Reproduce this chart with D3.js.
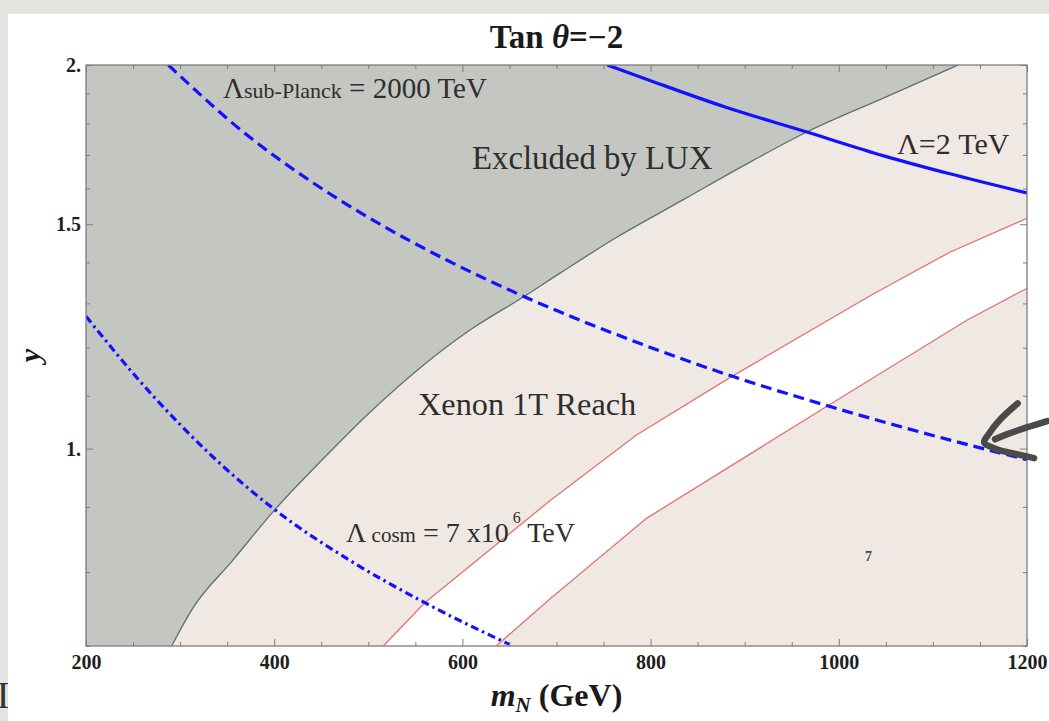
<!DOCTYPE html>
<html>
<head>
<meta charset="utf-8">
<script src="https://cdn.jsdelivr.net/npm/d3@7"></script>
<style>
  html, body { margin: 0; padding: 0; background: #e4e3df; }
  svg { display: block; }
  text { font-family: "Liberation Serif", "Times New Roman", serif; }
</style>
</head>
<body>
<svg id="chart" width="1049" height="721"></svg>
<script>
// Parameter space y versus m_N (GeV) at tan θ = −2

// LUX exclusion boundary: [m_N, y]; the region above/left is excluded
const luxBoundary = [
  [291, 0.70], [313.7, 0.750], [355.2, 0.816], [401, 0.896], [448.7, 0.976],
  [501.8, 1.068], [554.9, 1.157], [608.1, 1.239], [664.7, 1.315], [703.7, 1.373],
  [764, 1.465], [834.8, 1.568], [905.6, 1.678], [965.9, 1.772], [1047.3, 1.884],
  [1127, 2.0]
];

// Edges of the band left open by Xenon 1T
const xenonUpper = [
  [516, 0.70], [560, 0.757], [693, 0.910], [785, 1.025], [886, 1.139],
  [1037, 1.323], [1118, 1.426], [1200, 1.516]
];
const xenonLower = [
  [636, 0.70], [693, 0.762], [796, 0.882], [987, 1.079], [1136, 1.261], [1200, 1.336]
];

// Cutoff-scale contours
const lambdaSubPlanck = [
  [287.5, 2.0], [370.8, 1.763], [441.6, 1.616], [512.4, 1.500], [583.3, 1.406],
  [664.7, 1.317], [780, 1.216], [886.2, 1.140], [987.1, 1.081], [1100, 1.024], [1200, 0.980]
];
const lambda2TeV = [
  [754, 2.0], [800, 1.944], [880, 1.853], [966, 1.772], [1047, 1.698], [1118, 1.643], [1200, 1.587]
];
const lambdaCosm = [
  [200, 1.270], [265, 1.113], [335, 0.985], [401, 0.895], [477, 0.820],
  [560, 0.757], [650, 0.702]
];

// Hand-drawn pointer next to the sub-Planck contour
const pointerStrokes = [
  [[1190.0, 1.085], [1172.0, 1.055], [1159.0, 1.026], [1154.5, 1.011], [1167.8, 0.999], [1189.0, 0.990], [1207.5, 0.983]],
  [[1221.5, 1.051], [1199.7, 1.039], [1178.4, 1.026], [1166.0, 1.017]]
];

// Axes
const xDomain = [200, 1200];
const yDomain = [0.7, 2.0];
const xMajorTicks = [200, 400, 600, 800, 1000, 1200];
const xTickLabels = ["200", "400", "600", "800", "1000", "1200"];
const xMinorTicks = [250, 300, 350, 450, 500, 550, 650, 700, 750, 850, 900, 950, 1050, 1100, 1150];
const yMajorTicks = [1.0, 1.5, 2.0];
const yTickLabels = ["1.", "1.5", "2."];
const yMinorTicks = [0.7, 0.8, 0.9, 1.1, 1.2, 1.3, 1.4, 1.6, 1.7, 1.8, 1.9];

const svg = d3.select("#chart");
const W = 1049, H = 721;
const margin = { left: 86, right: 22, top: 65, bottom: 75 };

const x = d3.scaleLinear().domain(xDomain).range([margin.left, W - margin.right]);
const y = d3.scaleLog().domain(yDomain).range([H - margin.bottom, margin.top]);

// page backdrop and white sheet
svg.append("rect").attr("width", W).attr("height", H).attr("fill", "#e4e3df");
svg.append("rect").attr("x", 8).attr("y", 14).attr("width", W - 8).attr("height", H - 14).attr("fill", "#ffffff");
svg.append("text").attr("x", 3).attr("y", 708).attr("text-anchor", "middle")
  .attr("font-size", 38).attr("fill", "#333").text("I");
svg.append("rect").attr("x", 8).attr("y", 14).attr("width", 2).attr("height", H - 14).attr("fill", "#ffffff");

const defs = svg.append("defs");
defs.append("clipPath").attr("id", "plot-clip").append("rect")
  .attr("x", x(xDomain[0])).attr("y", y(yDomain[1]))
  .attr("width", x(xDomain[1]) - x(xDomain[0]))
  .attr("height", y(yDomain[0]) - y(yDomain[1]));

const plot = svg.append("g").attr("clip-path", "url(#plot-clip)");

// allowed-region background
plot.append("rect")
  .attr("x", x(xDomain[0])).attr("y", y(yDomain[1]))
  .attr("width", x(xDomain[1]) - x(xDomain[0]))
  .attr("height", y(yDomain[0]) - y(yDomain[1]))
  .attr("fill", "#f0e8e2");

const line = d3.line().x(d => x(d[0])).y(d => y(d[1]));
const curve = d3.line().x(d => x(d[0])).y(d => y(d[1])).curve(d3.curveMonotoneX);

// Xenon 1T band
const band = xenonUpper.concat(xenonLower.slice().reverse());
plot.append("path").attr("d", line(band) + "Z").attr("fill", "#ffffff");
[xenonUpper, xenonLower].forEach(edge => {
  plot.append("path").attr("d", line(edge))
    .attr("fill", "none").attr("stroke", "#e27373").attr("stroke-width", 1.3);
});

// LUX exclusion: closed along the left edge of the frame
const luxArea = curve(luxBoundary) + `L${x(xDomain[0])},${y(yDomain[1])}L${x(xDomain[0])},${y(yDomain[0])}Z`;
plot.append("path").attr("d", luxArea).attr("fill", "#c4c6c1");
plot.append("path").attr("d", curve(luxBoundary))
  .attr("fill", "none").attr("stroke", "#5d7070").attr("stroke-width", 1.3);

// cutoff-scale contours
plot.append("path").attr("d", curve(lambdaSubPlanck))
  .attr("fill", "none").attr("stroke", "#1212ff").attr("stroke-width", 3.2)
  .attr("stroke-dasharray", "11,6");
plot.append("path").attr("d", curve(lambdaCosm))
  .attr("fill", "none").attr("stroke", "#1212ff").attr("stroke-width", 3.2)
  .attr("stroke-dasharray", "8,4,2.5,4");
plot.append("path").attr("d", curve(lambda2TeV))
  .attr("fill", "none").attr("stroke", "#1212ff").attr("stroke-width", 3.2);

// frame and ticks on all four sides
const axisColor = "#7d7d7d";
function styleAxis(g) {
  g.select(".domain").remove();
  g.selectAll(".tick line").attr("stroke", axisColor).attr("stroke-width", 1);
  g.selectAll(".tick text")
    .attr("fill", "#1e1e1e").attr("font-size", 20).attr("font-weight", "bold")
    .attr("font-family", "'Liberation Serif', serif");
}
const yBottom = y(yDomain[0]), yTop = y(yDomain[1]);
const xLeft = x(xDomain[0]), xRight = x(xDomain[1]);

svg.append("g").attr("transform", `translate(0,${yBottom})`)
  .call(d3.axisBottom(x).tickValues(xMajorTicks).tickSize(-7).tickPadding(9)
    .tickFormat((d, i) => xTickLabels[i])).call(styleAxis);
svg.append("g").attr("transform", `translate(0,${yBottom})`)
  .call(d3.axisBottom(x).tickValues(xMinorTicks).tickSize(-4).tickFormat("")).call(styleAxis);
svg.append("g").attr("transform", `translate(0,${yTop})`)
  .call(d3.axisTop(x).tickValues(xMajorTicks).tickSize(-7).tickFormat("")).call(styleAxis);
svg.append("g").attr("transform", `translate(0,${yTop})`)
  .call(d3.axisTop(x).tickValues(xMinorTicks).tickSize(-4).tickFormat("")).call(styleAxis);

svg.append("g").attr("transform", `translate(${xLeft},0)`)
  .call(d3.axisLeft(y).tickValues(yMajorTicks).tickSize(-7).tickPadding(5)
    .tickFormat((d, i) => yTickLabels[i])).call(styleAxis);
svg.append("g").attr("transform", `translate(${xLeft},0)`)
  .call(d3.axisLeft(y).tickValues(yMinorTicks).tickSize(-4).tickFormat("")).call(styleAxis);
svg.append("g").attr("transform", `translate(${xRight},0)`)
  .call(d3.axisRight(y).tickValues(yMajorTicks).tickSize(-7).tickFormat("")).call(styleAxis);
svg.append("g").attr("transform", `translate(${xRight},0)`)
  .call(d3.axisRight(y).tickValues(yMinorTicks).tickSize(-4).tickFormat("")).call(styleAxis);

svg.append("rect").attr("x", xLeft).attr("y", yTop)
  .attr("width", xRight - xLeft).attr("height", yBottom - yTop)
  .attr("fill", "none").attr("stroke", axisColor).attr("stroke-width", 1.3);

// title
const title = svg.append("text").attr("x", (xLeft + xRight) / 2).attr("y", 48)
  .attr("text-anchor", "middle").attr("font-size", 33).attr("font-weight", "bold").attr("fill", "#1a1a1a");
title.append("tspan").text("Tan ");
title.append("tspan").attr("font-style", "italic").text("θ");
title.append("tspan").text("=−2");

// axis titles
const xt = svg.append("text").attr("x", (xLeft + xRight) / 2).attr("y", 706)
  .attr("text-anchor", "middle").attr("font-size", 32).attr("font-weight", "bold").attr("fill", "#1a1a1a");
xt.append("tspan").attr("font-style", "italic").text("m");
xt.append("tspan").attr("font-style", "italic").attr("font-size", 21).attr("dy", 6).text("N");
xt.append("tspan").attr("dy", -6).text(" (GeV)");

svg.append("text").attr("transform", `translate(40,${(yTop + yBottom) / 2}) rotate(-90)`)
  .attr("text-anchor", "middle").attr("font-size", 30).attr("font-weight", "bold")
  .attr("font-style", "italic").attr("fill", "#1a1a1a").text("y");

// in-plot annotations
const ink = "#2e2e2e";
const t1 = svg.append("text").attr("x", 223).attr("y", 98).attr("font-size", 29).attr("fill", ink);
t1.append("tspan").text("Λ");
t1.append("tspan").attr("font-size", 22).text("sub-Planck");
t1.append("tspan").text(" = 2000 TeV");

svg.append("text").attr("x", 472).attr("y", 169).attr("font-size", 32.8).attr("fill", ink).text("Excluded by LUX");
svg.append("text").attr("x", 897).attr("y", 154).attr("font-size", 30).attr("fill", ink).text("Λ=2 TeV");
svg.append("text").attr("x", 418).attr("y", 415).attr("font-size", 32.3).attr("fill", ink).text("Xenon 1T Reach");

const t5 = svg.append("text").attr("x", 346).attr("y", 542).attr("font-size", 28).attr("fill", ink);
t5.append("tspan").text("Λ");
t5.append("tspan").attr("font-size", 21).text(" cosm");
t5.append("tspan").text(" = 7 x10");
t5.append("tspan").attr("font-size", 16).attr("dx", 4).attr("dy", -19).text("6");
t5.append("tspan").attr("dy", 19).text(" TeV");

svg.append("text").attr("x", 865).attr("y", 561).attr("font-size", 14).attr("font-weight", "bold")
  .attr("fill", "#4a4a4a").text("7");

// pointer scribble
const pen = d3.line().x(d => x(d[0])).y(d => y(d[1])).curve(d3.curveCatmullRom);
pointerStrokes.forEach(s => {
  svg.append("path").attr("d", pen(s)).attr("fill", "none")
    .attr("stroke", "#4a4a4a").attr("stroke-width", 6.5)
    .attr("stroke-linecap", "round").attr("stroke-linejoin", "round");
});
</script>
</body>
</html>
